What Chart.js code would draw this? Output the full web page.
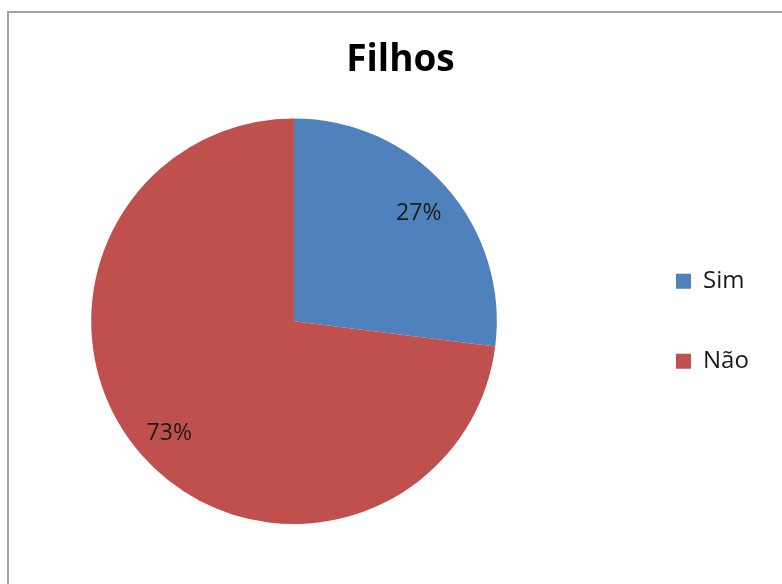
<!DOCTYPE html>
<html>
<head>
<meta charset="utf-8">
<script src="https://cdn.jsdelivr.net/npm/chart.js@4.4.1/dist/chart.umd.min.js"></script>
<style>
  html, body { margin: 0; padding: 0; background: #fff; overflow: hidden; width: 782px; height: 584px; }
  #frame { position: absolute; left: 7px; top: 11px; width: 800px; height: 600px;
           border-left: 2px solid #a2a2a2; border-top: 2px solid #a2a2a2; }
  #cs { position: absolute; left: -32px; top: 0; }
</style>
</head>
<body>
<div id="frame"></div>
<canvas id="cs" width="865" height="584"></canvas>
<script>
var categories = ["Sim", "Não"];
var percentages = [27, 73];
var sliceColors = ["#4F81BD", "#C0504D"];
var legendWidth = 213;

// the legend sits well to the right of the pie, so give its box a fixed width
var legendSpacer = {
  id: "legendSpacer",
  beforeLayout: function (chart) {
    var legend = chart.legend;
    if (!legend || legend.spacerDone) return;
    var baseFit = legend.fit;
    legend.fit = function () {
      baseFit.call(this);
      this.width = Math.max(this.width, legendWidth);
    };
    legend.spacerDone = true;
  }
};

// percentage labels inside each slice
var sliceLabels = {
  id: "sliceLabels",
  afterDatasetsDraw: function (chart) {
    var ctx = chart.ctx;
    var meta = chart.getDatasetMeta(0);
    ctx.save();
    ctx.font = "23px 'Open Sans'";
    ctx.fillStyle = "#1a1a1a";
    ctx.textAlign = "center";
    ctx.textBaseline = "middle";
    meta.data.forEach(function (arc, i) {
      var p = arc.getProps(["x", "y", "startAngle", "endAngle", "outerRadius"], true);
      var mid = (p.startAngle + p.endAngle) / 2;
      var r = p.outerRadius * 0.82;
      ctx.fillText(percentages[i] + "%", p.x + Math.cos(mid) * r, p.y + Math.sin(mid) * r + 2);
    });
    ctx.restore();
  }
};

var ctx = document.getElementById("cs");
var myPie = new Chart(ctx, {
  type: "pie",
  data: {
    labels: categories,
    datasets: [{
      data: percentages,
      backgroundColor: sliceColors,
      borderWidth: 0,
      hoverOffset: 0
    }]
  },
  plugins: [legendSpacer, sliceLabels],
  options: {
    responsive: false,
    animation: false,
    layout: { padding: { top: 0, bottom: 60, left: 0, right: 0 } },
    plugins: {
      title: {
        display: true,
        text: "Filhos",
        color: "#000",
        font: { family: "'Open Sans'", size: 37, weight: "bold", lineHeight: 1.2 },
        padding: { top: 38, bottom: 36 }
      },
      legend: {
        position: "right",
        fullSize: false,
        labels: {
          color: "#1a1a1a",
          font: { family: "'Open Sans'", size: 24 },
          boxWidth: 15,
          boxHeight: 15,
          padding: 56
        }
      },
      tooltip: { enabled: false }
    }
  }
});
</script>
</body>
</html>
